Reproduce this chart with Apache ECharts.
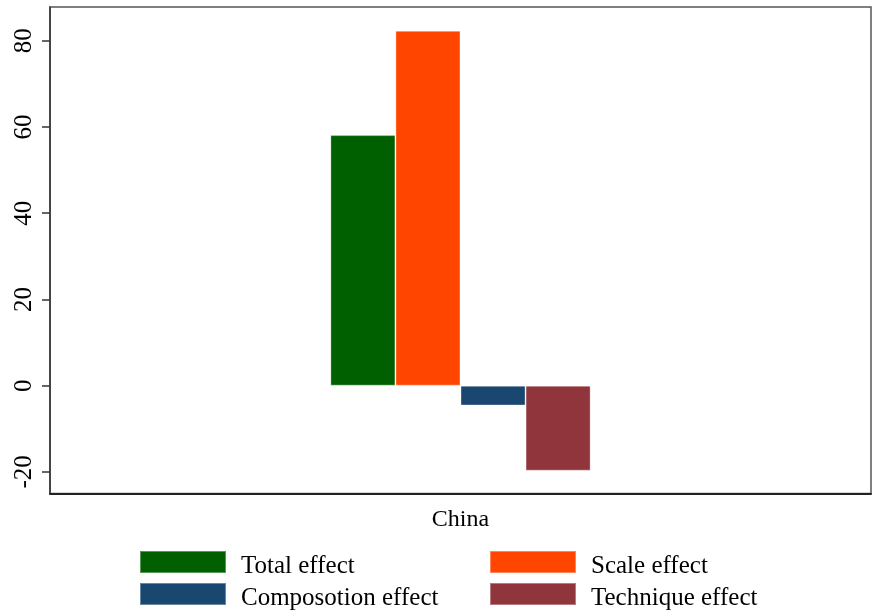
<!DOCTYPE html>
<html>
<head>
<meta charset="utf-8">
<script src="https://cdn.jsdelivr.net/npm/echarts@6/dist/echarts.min.js"></script>
<style>html,body{margin:0;padding:0;background:#fff}#c{width:872px;height:611px}</style>
</head>
<body>
<div id="c"></div>
<script>
var categories = ['China'];
var seriesNames = ['Total effect', 'Scale effect', 'Composotion effect', 'Technique effect'];
var totalEffect = [58.1];
var scaleEffect = [82.3];
var compositionEffect = [-4.6];
var techniqueEffect = [-19.7];
var yTicks = [-20, 0, 20, 40, 60, 80];
var colors = ['#006000', '#ff4500', '#1a476f', '#90353b'];

var font = "'Liberation Serif','Times New Roman',serif";
var chart = echarts.init(document.getElementById('c'), null, {renderer: 'canvas'});
var values = [totalEffect, scaleEffect, compositionEffect, techniqueEffect];
var series = seriesNames.map(function (n, i) {
  return {
    name: n, type: 'bar', data: values[i],
    barGap: '0%', barCategoryGap: '68.3%',
    itemStyle: {color: colors[i], borderColor: 'rgba(255,255,255,0.35)', borderWidth: 1},
    emphasis: {disabled: true}
  };
});
var legendPos = [[139, 550], [489, 550], [139, 582], [489, 582]];
var legends = seriesNames.map(function (n, i) {
  return {
    data: [n], left: legendPos[i][0], top: legendPos[i][1],
    orient: 'horizontal', itemWidth: 86, itemHeight: 22, padding: 0,
    icon: 'rect', selectedMode: false,
    formatter: '{a|{name}}',
    textStyle: {
      fontFamily: font, fontSize: 25, color: '#000', padding: [0, 0, 0, 10],
      rich: {a: {fontFamily: font, fontSize: 25, color: '#000', lineHeight: 33, verticalAlign: 'bottom'}}
    }
  };
});
chart.setOption({
  backgroundColor: '#fff',
  animation: false,
  grid: {left: 50, right: 1, top: 7, bottom: 117.5, show: true, borderColor: '#555', borderWidth: 1.5, backgroundColor: 'transparent'},
  legend: legends,
  xAxis: {
    type: 'category', data: categories,
    axisLine: {onZero: false, lineStyle: {color: '#222', width: 2}},
    axisTick: {show: false},
    axisLabel: {fontFamily: font, fontSize: 24, color: '#000', margin: 14}
  },
  yAxis: {
    type: 'value', min: -25, max: 87.8,
    splitLine: {show: false},
    axisLine: {show: true, lineStyle: {color: '#333', width: 1.5}},
    axisTick: {show: true, length: 8, lineStyle: {color: '#333', width: 1.5}, customValues: yTicks},
    axisLabel: {fontFamily: font, fontSize: 25, color: '#000', rotate: 90, margin: 13, customValues: yTicks}
  },
  series: series
});
</script>
</body>
</html>
